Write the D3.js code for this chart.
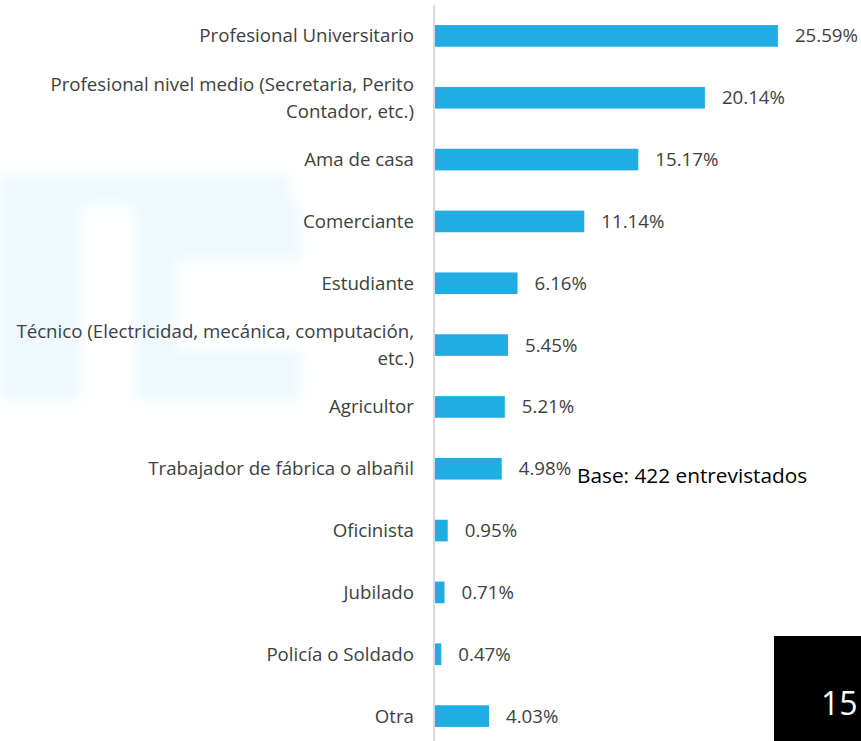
<!DOCTYPE html>
<html>
<head>
<meta charset="utf-8">
<script src="https://cdn.jsdelivr.net/npm/d3@7"></script>
<style>
  html,body{margin:0;padding:0;background:#fff;}
  svg{display:block;font-family:"Open Sans",sans-serif;}
</style>
</head>
<body>
<div id="chart"></div>
<script>
// categories (multi-line labels split with \n)
const categories=[
  "Profesional Universitario",
  "Profesional nivel medio (Secretaria, Perito\nContador, etc.)",
  "Ama de casa",
  "Comerciante",
  "Estudiante",
  "Técnico (Electricidad, mecánica, computación,\netc.)",
  "Agricultor",
  "Trabajador de fábrica o albañil",
  "Oficinista",
  "Jubilado",
  "Policía o Soldado",
  "Otra"
];
const values=[25.59,20.14,15.17,11.14,6.16,5.45,5.21,4.98,0.95,0.71,0.47,4.03];
const baseNote="Base: 422 entrevistados";
const pageNumber="15";

(function(){
    const W=861,H=741;
    const svg=d3.select("#chart").append("svg")
        .attr("width",W).attr("height",H);

    const defs=svg.append("defs");
    defs.append("filter").attr("id","blur")
        .attr("x","-20%").attr("y","-20%").attr("width","140%").attr("height","140%")
        .append("feGaussianBlur").attr("stdDeviation",7);

    //faint watermark in the background
    const wm=svg.append("g").attr("fill","#eef8fd")
        .attr("filter","url(#blur)");
    [[0,175,80,225],[0,175,290,30],[135,205,165,55],[135,205,40,195],[135,350,165,50]]
        .forEach(function(r){
            wm.append("rect").attr("x",r[0]).attr("y",r[1]).attr("width",r[2]).attr("height",r[3]);
        });

    let x=d3.scaleLinear().domain([0,30]).range([435,837]);
    let y=d3.scaleBand().domain(categories).range([5,747])
        .paddingInner(0.65).paddingOuter(0.325);

    //bars
    svg.append("g").selectAll("rect")
        .data(values)
        .join("rect")
        .attr("x",x(0))
        .attr("y",function(d,i){return y(categories[i])})
        .attr("width",function(d){return x(d)-x(0)})
        .attr("height",y.bandwidth())
        .attr("fill","#1fade3");

    //vertical axis line
    svg.append("line")
        .attr("x1",x(0)-1).attr("x2",x(0)-1)
        .attr("y1",5).attr("y2",H)
        .attr("stroke","#d9d9d9").attr("stroke-width",2);

    //category labels
    const lineH=27.5;
    svg.append("g").selectAll("text")
        .data(categories)
        .join("text")
        .attr("text-anchor","end")
        .attr("font-size",18.7)
        .attr("fill","#404040")
        .each(function(d){
            let lines=d.split("\n");
            let cy=y(d)+y.bandwidth()/2;
            let t=d3.select(this);
            lines.forEach(function(l,k){
                t.append("tspan")
                    .attr("x",x(0)-21)
                    .attr("y",cy+(k-(lines.length-1)/2)*lineH)
                    .attr("dy","0.35em")
                    .text(l);
            });
        });

    //value labels
    svg.append("g").selectAll("text")
        .data(values)
        .join("text")
        .attr("x",function(d){return x(d)+17})
        .attr("y",function(d,i){return y(categories[i])+y.bandwidth()/2})
        .attr("dy","0.35em")
        .attr("font-size",18.7)
        .attr("fill","#404040")
        .text(function(d){return d.toFixed(2)+"%"});

    //base note
    svg.append("text")
        .attr("x",577).attr("y",483)
        .attr("font-size",20.8)
        .attr("fill","#000")
        .text(baseNote);

    //page number box
    svg.append("rect")
        .attr("x",774).attr("y",636).attr("width",W-774).attr("height",H-636)
        .attr("fill","#000");
    svg.append("text")
        .attr("x",821).attr("y",715)
        .attr("font-size",32)
        .attr("fill","#fff")
        .text(pageNumber);
})();
</script>
</body>
</html>
